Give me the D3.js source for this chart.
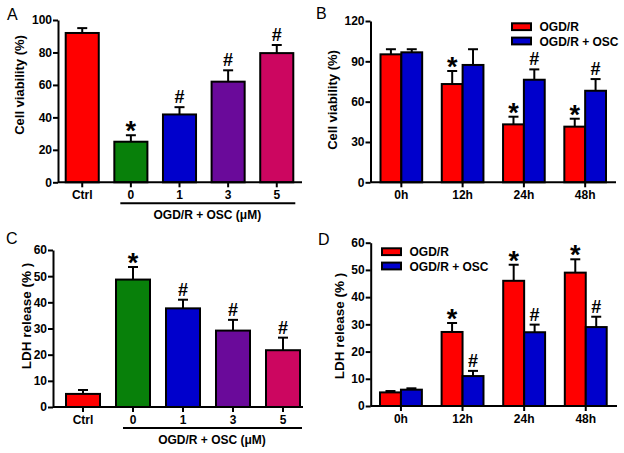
<!DOCTYPE html>
<html>
<head>
<meta charset="utf-8">
<script src="https://cdn.jsdelivr.net/npm/d3@7"></script>
<style>
html,body{margin:0;padding:0;background:#fff;}
svg{display:block;font-family:"Liberation Sans",Arial,sans-serif;}
</style>
</head>
<body>
<svg id="chart" width="624" height="453"></svg>
<script>
// ---------- DATA ----------
const doseCategories = ["Ctrl", "0", "1", "3", "5"];
const doseColors = ["#ff0000", "#08800a", "#0000cc", "#6a0a9a", "#cc0660"];
const viabilityDose = [92, 25, 41.8, 62, 79.6];
const viabilityDoseErr = [3, 4, 4.5, 7, 5];
const viabilityDoseMarks = ["", "*", "#", "#", "#"];
const ldhDose = [5, 48.7, 37.7, 29.2, 21.7];
const ldhDoseErr = [1.5, 4.8, 3.3, 4.1, 4.8];
const ldhDoseMarks = ["", "*", "#", "#", "#"];

const timeCategories = ["0h", "12h", "24h", "48h"];
const seriesNames = ["OGD/R", "OGD/R + OSC"];
const seriesColors = ["#ff0000", "#0000cc"];
const viabilityOGD = [95.2, 73.1, 43.1, 41.4];
const viabilityOGDErr = [3.8, 9.7, 5.7, 5.9];
const viabilityOSC = [96.7, 87.3, 76.3, 68.1];
const viabilityOSCErr = [2.3, 11.7, 7.7, 8.7];
const viabilityOGDMarks = ["", "*", "*", "*"];
const viabilityOSCMarks = ["", "", "#", "#"];
const ldhOGD = [5.0, 27.2, 46.0, 49.0];
const ldhOGDErr = [0.5, 3.3, 5.9, 4.9];
const ldhOSC = [6.0, 11.0, 27.1, 29.0];
const ldhOSCErr = [0.5, 1.9, 2.8, 3.8];
const ldhOGDMarks = ["", "*", "*", "*"];
const ldhOSCMarks = ["", "#", "#", "#"];

const ticksViabilityDose = [0, 20, 40, 60, 80, 100];
const ticksViabilityTime = [0, 30, 60, 90, 120];
const ticksLdh = [0, 10, 20, 30, 40, 50, 60];

const svg = d3.select("#chart");

function drawMark(g, mark, cx, yTop) {
  if (!mark) return;
  if (mark === "*") {
    g.append("text").attr("x", cx).attr("y", yTop + 5)
      .attr("text-anchor", "middle").attr("font-size", 27).attr("font-weight", "bold")
      .text("*");
  } else {
    g.append("text").attr("x", cx).attr("y", yTop - 4)
      .attr("text-anchor", "middle").attr("font-size", 18).attr("font-weight", "bold")
      .text("#");
  }
}

function drawBar(g, x, w, y, v, e, color, mark) {
  const cx = x + w / 2;
  const yTop = y(v + e);
  g.append("line").attr("x1", cx).attr("x2", cx).attr("y1", y(v)).attr("y2", yTop)
    .attr("stroke", "#000").attr("stroke-width", 2);
  g.append("line").attr("x1", cx - 5).attr("x2", cx + 5).attr("y1", yTop).attr("y2", yTop)
    .attr("stroke", "#000").attr("stroke-width", 2);
  g.append("rect").attr("x", x).attr("y", y(v)).attr("width", w).attr("height", y(0) - y(v))
    .attr("fill", color).attr("stroke", "#000").attr("stroke-width", 2);
  drawMark(g, mark, cx, yTop);
}

function yAxis(g, y, ticks, axisX, title, titleX, titleY, titleSize) {
  const ax = g.append("g").attr("transform", `translate(${axisX},0)`)
    .call(d3.axisLeft(y).tickValues(ticks).tickSize(5).tickSizeOuter(0).tickPadding(1));
  ax.select(".domain").attr("stroke-width", 2);
  ax.selectAll(".tick line").attr("stroke-width", 2);
  ax.selectAll("text").attr("font-size", 12).attr("font-weight", "bold")
    .attr("font-family", "Liberation Sans, Arial, sans-serif").attr("fill", "#000");
  g.append("text").attr("transform", `translate(${titleX},${titleY}) rotate(-90)`)
    .attr("text-anchor", "middle").attr("font-size", titleSize).attr("font-weight", "bold")
    .text(title);
}

function xAxisLine(g, x0, x1, y0, centers, labels) {
  g.append("line").attr("x1", x0).attr("x2", x1).attr("y1", y0).attr("y2", y0)
    .attr("stroke", "#000").attr("stroke-width", 2);
  centers.forEach((c, i) => {
    g.append("line").attr("x1", c).attr("x2", c).attr("y1", y0).attr("y2", y0 + 5)
      .attr("stroke", "#000").attr("stroke-width", 2);
    g.append("text").attr("x", c).attr("y", y0 + 16.5).attr("text-anchor", "middle")
      .attr("font-size", 12).attr("font-weight", "bold").text(labels[i]);
  });
}

function panelLetter(letter, x, y) {
  svg.append("text").attr("x", x).attr("y", y).attr("font-size", 16).text(letter);
}

// ---------- single-series dose panels ----------
function dosePanel(opt) {
  const g = svg.append("g");
  const y = d3.scaleLinear().domain([opt.ticks[0], opt.ticks[opt.ticks.length - 1]]).range(opt.yRange);
  const x = d3.scaleBand().domain(doseCategories).range(opt.bandRange).paddingInner(0.32).paddingOuter(0);
  doseCategories.forEach((c, i) => {
    drawBar(g, x(c), x.bandwidth(), y, opt.values[i], opt.errs[i], doseColors[i], opt.marks[i]);
  });
  yAxis(g, y, opt.ticks, opt.axisX, opt.title, opt.titleX, opt.titleY, opt.titleSize);
  xAxisLine(g, opt.axisX, opt.xEnd, y(0), doseCategories.map(c => x(c) + x.bandwidth() / 2), doseCategories);
  // bracket
  const b0 = x("0") + opt.bracketInset, b1 = x("5") + x.bandwidth() + 2;
  g.append("line").attr("x1", b0).attr("x2", b1).attr("y1", y(0) + 21).attr("y2", y(0) + 21)
    .attr("stroke", "#000").attr("stroke-width", 2);
  g.append("text").attr("x", (b0 + b1) / 2 - 0.5).attr("y", y(0) + 36.5).attr("text-anchor", "middle")
    .attr("font-size", 12).attr("font-weight", "bold").text("OGD/R + OSC (\u03BCM)");
}

// ---------- grouped time panels ----------
function timePanel(opt) {
  const g = svg.append("g");
  const y = d3.scaleLinear().domain([opt.ticks[0], opt.ticks[opt.ticks.length - 1]]).range(opt.yRange);
  const x = d3.scaleBand().domain(timeCategories).range(opt.bandRange).paddingInner(0.32).paddingOuter(0);
  const xs = d3.scaleBand().domain([0, 1]).range([0, x.bandwidth()]);
  timeCategories.forEach((c, i) => {
    opt.series.forEach((s, k) => {
      drawBar(g, x(c) + xs(k), xs.bandwidth(), y, s.values[i], s.errs[i], seriesColors[k], s.marks[i]);
    });
  });
  yAxis(g, y, opt.ticks, opt.axisX, opt.title, opt.titleX, opt.titleY, opt.titleSize);
  xAxisLine(g, opt.axisX, opt.xEnd, y(0), timeCategories.map(c => x(c) + x.bandwidth() / 2), timeCategories);
  // legend
  seriesNames.forEach((n, k) => {
    const ly = opt.legendY + k * 14.3;
    g.append("rect").attr("x", opt.legendX).attr("y", ly).attr("width", 19).attr("height", 6.8)
      .attr("fill", seriesColors[k]).attr("stroke", "#000").attr("stroke-width", 2);
    g.append("text").attr("x", opt.legendX + 27.5).attr("y", ly + 8).attr("font-size", 12)
      .attr("font-weight", "bold").text(n);
  });
}

dosePanel({
  values: viabilityDose, errs: viabilityDoseErr, marks: viabilityDoseMarks, ticks: ticksViabilityDose,
  yRange: [182.3, 20], bandRange: [65.7, 293.3], axisX: 58, xEnd: 302,
  title: "Cell viability (%)", titleX: 24, titleY: 85, titleSize: 13, bracketInset: 6
});
dosePanel({
  values: ldhDose, errs: ldhDoseErr, marks: ldhDoseMarks, ticks: ticksLdh,
  yRange: [407, 250], bandRange: [66, 300], axisX: 53, xEnd: 303,
  title: "LDH release (% )", titleX: 31, titleY: 316, titleSize: 13.5, bracketInset: 7
});
timePanel({
  series: [
    { values: viabilityOGD, errs: viabilityOGDErr, marks: viabilityOGDMarks },
    { values: viabilityOSC, errs: viabilityOSCErr, marks: viabilityOSCMarks }
  ],
  ticks: ticksViabilityTime, yRange: [182.3, 21], bandRange: [380.5, 606], axisX: 370.5, xEnd: 616,
  title: "Cell viability (%)", titleX: 336.5, titleY: 100, titleSize: 13, legendX: 512, legendY: 23.3
});
timePanel({
  series: [
    { values: ldhOGD, errs: ldhOGDErr, marks: ldhOGDMarks },
    { values: ldhOSC, errs: ldhOSCErr, marks: ldhOSCMarks }
  ],
  ticks: ticksLdh, yRange: [406, 242.7], bandRange: [380, 606.7], axisX: 370.7, xEnd: 617,
  title: "LDH release (% )", titleX: 343.5, titleY: 326, titleSize: 13.5, legendX: 382, legendY: 248.3
});

panelLetter("A", 7, 20);
panelLetter("B", 316, 19);
panelLetter("C", 6, 244);
panelLetter("D", 318, 245);
</script>
</body>
</html>
